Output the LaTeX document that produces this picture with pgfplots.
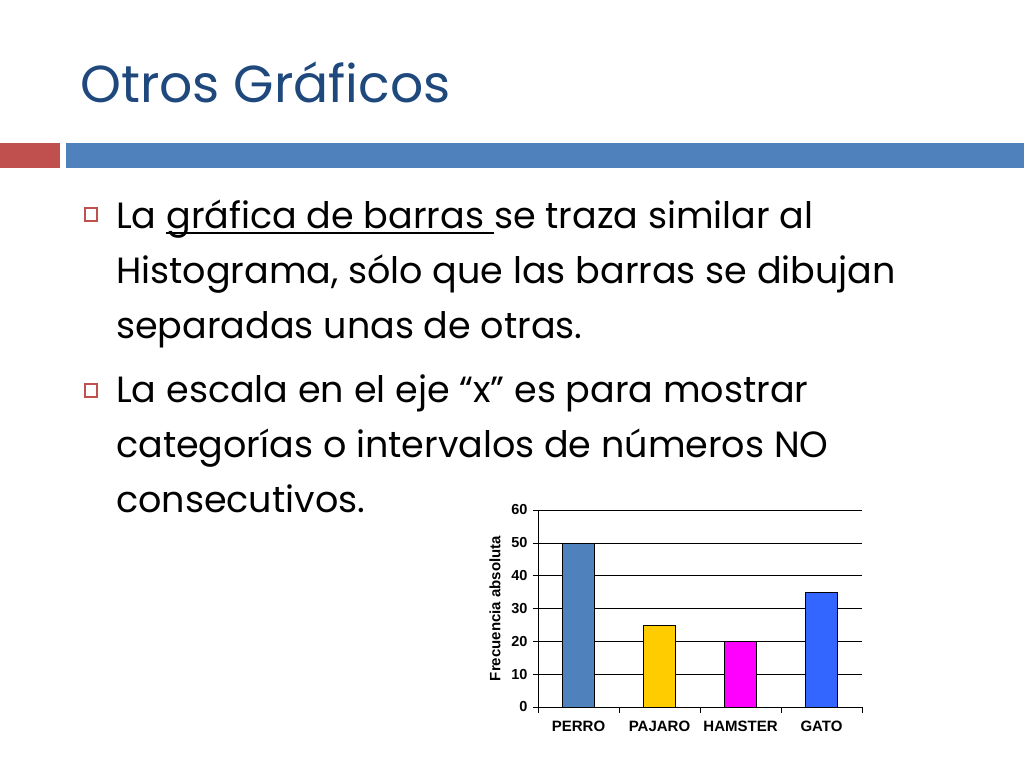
\documentclass[border=0pt]{standalone}
\usepackage{pgfplots}
\pgfplotsset{compat=1.18}
\usepackage{fontspec}
\setmainfont{Poppins}
\newfontfamily\chartfont{Liberation Sans}

\definecolor{titleblue}{HTML}{1F497D}
\definecolor{barred}{HTML}{C0504D}
\definecolor{barblue}{HTML}{4F81BD}
\definecolor{perro}{HTML}{4F81BD}
\definecolor{pajaro}{HTML}{FFCC00}
\definecolor{hamster}{HTML}{FF00FF}
\definecolor{gato}{HTML}{3366FF}

% thick underline that keeps the trailing space
\newcommand\ul[1]{\setbox0\hbox{#1}\rlap{\rule[-5bp]{\wd0}{1.8bp}}\box0}

\begin{document}
\begin{tikzpicture}[x=1bp,y=1bp]
\useasboundingbox (0,0) rectangle (1024,768);
\fill[white] (0,0) rectangle (1024,768);

% title and header bars
\node[anchor=base west, inner sep=0, text=titleblue,
      font=\fontsize{52bp}{60bp}\selectfont] at (80,665) {Otros Gráficos};
\fill[barred] (0,625) rectangle (60,600);
\fill[barblue] (66,625) rectangle (1024,600);

% bullets
\draw[barred, line width=1.2bp] (85,560) rectangle (97,547);
\draw[barred, line width=1.2bp] (85,384) rectangle (97,371);

\tikzset{body/.style={anchor=base west, inner sep=0,
  font=\fontsize{36.5bp}{55bp}\selectfont}}
\node[body] at (116,539) {La \ul{gráfica de barras }se traza similar al};
\node[body] at (116,484) {Histograma, sólo que las barras se dibujan};
\node[body] at (116,429) {separadas unas de otras.};
\node[body] at (116,365) {La escala en el eje “x” es para mostrar};
\node[body] at (116,310) {categorías o intervalos de números NO};
\node[body] at (116,255) {consecutivos.};

\coordinate (plotorigin) at (538,61);

\begin{axis}[
    at={(plotorigin)}, anchor=south west,
    scale only axis,
    width=324bp, height=197bp,
    ybar, bar width=0.4,
    xmin=-0.5, xmax=3.5,
    ymin=0, ymax=60,
    ytick={0,10,20,30,40,50,60},
    xtick={0,1,2,3},
    xticklabels={PERRO,PAJARO,HAMSTER,GATO},
    minor xtick={-0.5,0.5,1.5,2.5,3.5},
    axis lines*=left,
    ymajorgrids=true,
    grid style={black, line width=0.6bp},
    tick align=outside,
    major x tick style={draw=none},
    major tick length=5bp,
    minor tick length=6bp,
    tick style={black, line width=0.6bp},
    axis line style={black, line width=0.8bp},
    /pgf/number format/assume math mode=true,
    ticklabel style={font=\chartfont\bfseries\fontsize{14.5bp}{16bp}\selectfont},
    yticklabel style={xshift=-2bp},
    xticklabel style={font=\chartfont\bfseries\fontsize{15bp}{16bp}\selectfont, yshift=-6bp},
    ylabel={Frecuencia absoluta},
    ylabel shift=4bp,
    ylabel style={font=\chartfont\bfseries\fontsize{15bp}{16bp}\selectfont},
    every axis plot/.append style={draw=black, line width=0.5bp, bar shift=0pt},
]
\addplot[fill=perro] coordinates {(0,50)};
\addplot[fill=pajaro] coordinates {(1,25)};
\addplot[fill=hamster] coordinates {(2,20)};
\addplot[fill=gato] coordinates {(3,35)};
\end{axis}
\end{tikzpicture}
\end{document}
